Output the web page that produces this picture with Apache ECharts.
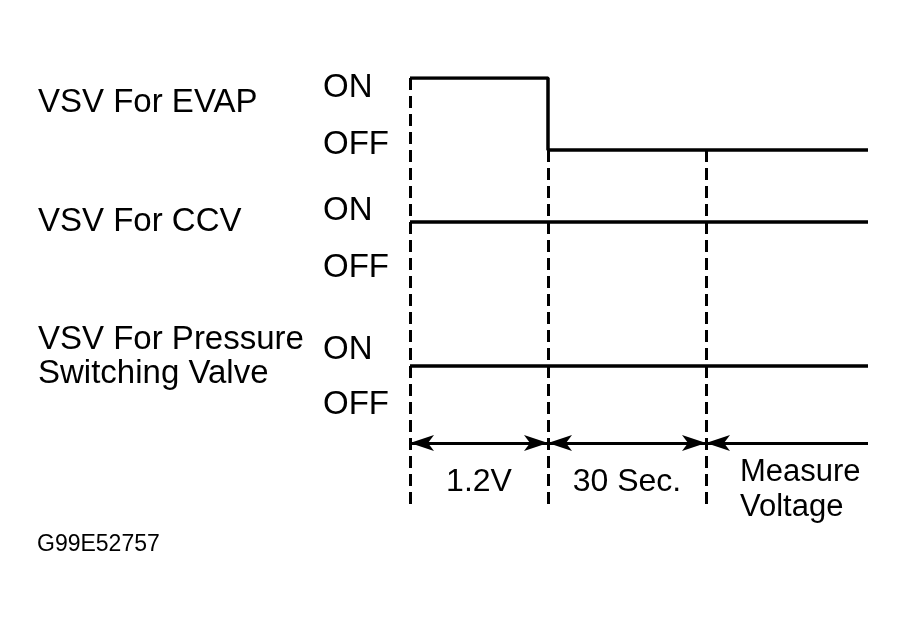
<!DOCTYPE html>
<html>
<head>
<meta charset="utf-8">
<script src="https://cdn.jsdelivr.net/npm/echarts@6/dist/echarts.min.js"></script>
<style>
  html, body { margin: 0; padding: 0; background: #fff; }
  #chart { width: 906px; height: 626px; }
</style>
</head>
<body>
<div id="chart"></div>
<script>
// phase boundaries on the (schematic) time axis
const phaseEdges = [0, 138, 296, 458];
const phaseLabels = ['1.2V', '30 Sec.', 'Measure\nVoltage'];
const signalNames = ['VSV For EVAP', 'VSV For CCV', 'VSV For Pressure\nSwitching Valve'];
// valve state at each phase edge, 1 = ON, 0 = OFF
const evapState = [1, 0, 0, 0];
const ccvState = [1, 1, 1, 1];
const psvState = [1, 1, 1, 1];
const stateLabels = ['ON', 'OFF'];
const footerText = 'G99E52757';

const FONT = "'Liberation Sans', Arial, Helvetica, sans-serif";
const ROW = 2;          // each valve uses two y units (ON, OFF)
const ARROW_Y = 5.07;   // y of the phase arrows
const LABEL_Y = 5.62;

const states = [evapState, ccvState, psvState];

// one step line per valve
const valveSeries = states.map((st, i) => ({
  type: 'line',
  step: 'end',
  symbol: 'none',
  silent: true,
  animation: false,
  lineStyle: { color: '#000', width: 3.5 },
  data: phaseEdges.map((t, k) => [t, i * ROW + 1 - st[k]])
}));

// dashed phase boundaries, start at the EVAP trace
const dashLines = phaseEdges.slice(0, 3).map((t, k) => [
  { coord: [t, 1 - evapState[k]] },
  { coord: [t, 6] }
]);

// arrows between the boundaries
const arrowLines = phaseEdges.slice(0, 3).map((t, k) => [
  { coord: [t, ARROW_Y], symbol: 'arrow' },
  { coord: [phaseEdges[k + 1], ARROW_Y], symbol: k < 2 ? 'arrow' : 'none' }
]);

valveSeries.push({
  type: 'line',
  data: [],
  silent: true,
  animation: false,
  markLine: {
    silent: true,
    animation: false,
    symbol: 'none',
    label: { show: false },
    lineStyle: { color: '#000', width: 3, type: [12, 6] },
    data: dashLines
  }
});

valveSeries.push({
  type: 'line',
  data: [],
  silent: true,
  animation: false,
  markLine: {
    silent: true,
    animation: false,
    symbolSize: [12, 24],
    label: { show: false },
    lineStyle: { color: '#000', width: 3, type: 'solid' },
    itemStyle: { color: '#000' },
    data: arrowLines
  }
});

// phase captions
valveSeries.push({
  type: 'scatter',
  symbolSize: 0,
  silent: true,
  animation: false,
  itemStyle: { opacity: 1 },
  data: phaseLabels.map((txt, k) => {
    const last = k === phaseLabels.length - 1;
    return {
      value: [last ? phaseEdges[k] + 34 : (phaseEdges[k] + phaseEdges[k + 1]) / 2, last ? 5.72 : LABEL_Y],
      name: txt,
      label: {
        show: true,
        position: 'inside',
        formatter: txt,
        align: last ? 'left' : 'center',
        verticalAlign: 'middle',
        color: '#000',
        fontFamily: FONT,
        fontSize: last ? 31 : 32,
        lineHeight: 35
      }
    };
  })
});

const nameText = (txt, y) => ({
  type: 'text', x: 38, y: y,
  style: { text: txt, font: '33px ' + FONT, fill: '#000', textVerticalAlign: 'middle', lineHeight: 34 }
});
const stateText = (txt, y) => ({
  type: 'text', x: 323, y: y,
  style: { text: txt, font: '33px ' + FONT, fill: '#000', textVerticalAlign: 'middle' }
});

const chart = echarts.init(document.getElementById('chart'));
chart.setOption({
  backgroundColor: '#fff',
  animation: false,
  grid: { left: 410, right: 38, top: 78, bottom: 116 },
  xAxis: { type: 'value', min: 0, max: 458, show: false },
  yAxis: { type: 'value', min: 0, max: 6, inverse: true, show: false },
  graphic: [
    nameText(signalNames[0], 103),
    nameText(signalNames[1], 222),
    nameText(signalNames[2], 357),
    stateText(stateLabels[0], 88),
    stateText(stateLabels[1], 145),
    stateText(stateLabels[0], 211),
    stateText(stateLabels[1], 268),
    stateText(stateLabels[0], 350),
    stateText(stateLabels[1], 405),
    {
      type: 'text', x: 37, y: 545,
      style: { text: footerText, font: '23px ' + FONT, fill: '#000', textVerticalAlign: 'middle' }
    }
  ],
  series: valveSeries
});
</script>
</body>
</html>
